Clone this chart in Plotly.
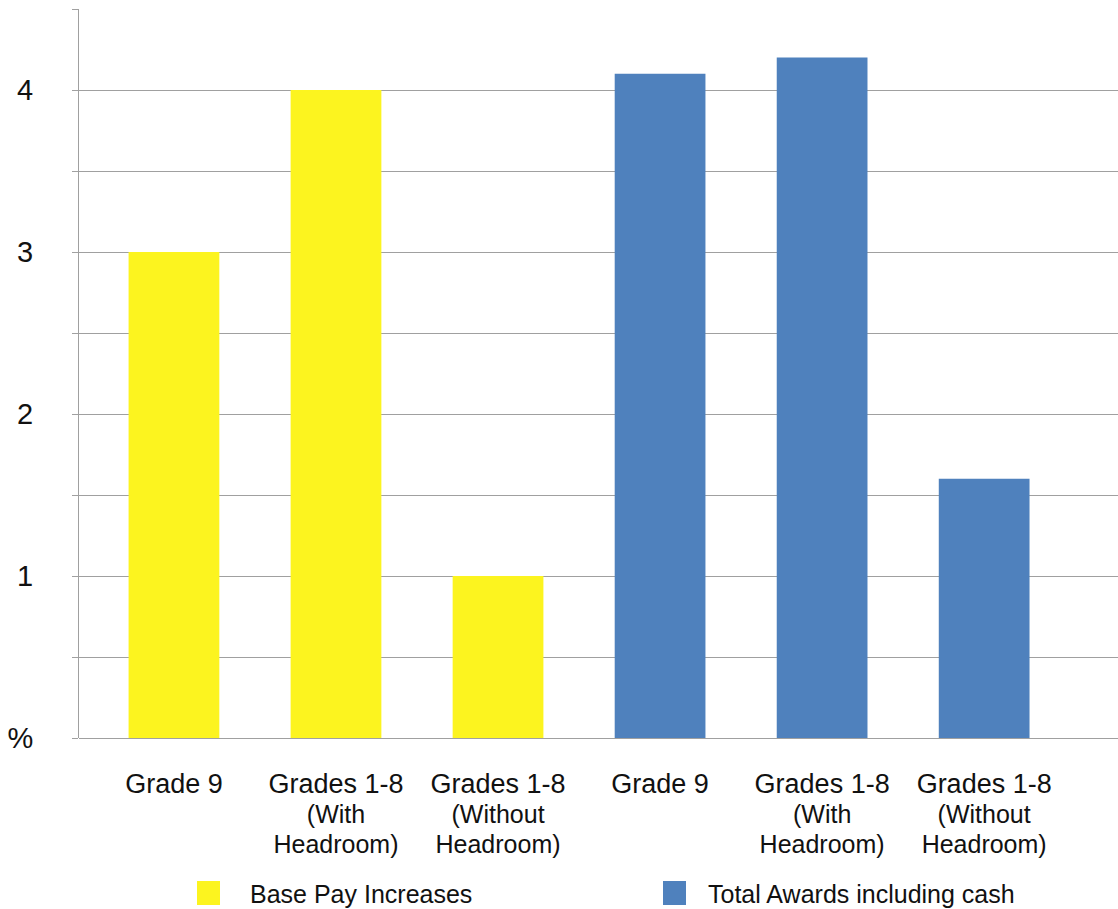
import plotly.graph_objects as go

# Category labels (main line + two smaller sub-lines)
categories = ["Grade 9", "Grades 1-8", "Grades 1-8", "Grade 9", "Grades 1-8", "Grades 1-8"]
sub_line1 = ["", "(With", "(Without", "", "(With", "(Without"]
sub_line2 = ["", "Headroom)", "Headroom)", "", "Headroom)", "Headroom)"]

# Series values (%)
base_pay = [3.0, 4.0, 1.0]
total_awards = [4.1, 4.2, 1.6]

series_names = ["Base Pay Increases", "Total Awards including cash"]
y_tickvals = [0, 0.5, 1, 1.5, 2, 2.5, 3, 3.5, 4, 4.5]
y_ticktext = ["%", "", "1", "", "2", "", "3", "", "4", ""]

YELLOW = "#FCF41F"
BLUE = "#4F81BD"
FONT = "Liberation Sans, Arial, sans-serif"

W, H = 1118, 909
M_L, M_R, M_T, M_B = 79, 0, 9, 171
PW, PH = W - M_L - M_R, H - M_T - M_B


def px_x(px):
    return (px - M_L) / PW


def px_y(py):
    return (H - M_B - py) / PH


positions = list(range(len(categories)))
n_base = len(base_pay)

ticktext = []
for main, s1, s2 in zip(categories, sub_line1, sub_line2):
    txt = f"<span style='font-size:27px'>{main}</span>"
    if s1:
        txt += (f"<br><span style='font-size:25px'>{s1}</span>"
                f"<br><span style='font-size:25px'>{s2}</span>")
    ticktext.append(txt)

fig = go.Figure()
fig.add_trace(go.Bar(x=positions[:n_base], y=base_pay, name=series_names[0],
                     marker=dict(color=YELLOW, line=dict(width=0)), width=0.56,
                     showlegend=False))
fig.add_trace(go.Bar(x=positions[n_base:], y=total_awards, name=series_names[1],
                     marker=dict(color=BLUE, line=dict(width=0)), width=0.56,
                     showlegend=False))

# Custom legend: colour squares plus labels under the category axis
legend_items = [(197, YELLOW, 248), (663, BLUE, 706)]
for (sq_x, color, tx), name in zip(legend_items, series_names):
    fig.add_shape(type="rect", xref="paper", yref="paper",
                  x0=px_x(sq_x), x1=px_x(sq_x + 23), y0=px_y(905), y1=px_y(881),
                  fillcolor=color, line=dict(width=0))
    fig.add_annotation(xref="paper", yref="paper", x=px_x(tx), y=px_y(894),
                       xanchor="left", yanchor="middle", showarrow=False,
                       text=name, font=dict(family=FONT, size=25, color="#111111"))

fig.update_layout(
    width=W, height=H,
    margin=dict(l=M_L, r=M_R, t=M_T, b=M_B),
    paper_bgcolor="white", plot_bgcolor="white",
    barmode="overlay",
    font=dict(family=FONT, color="#111111"),
    xaxis=dict(
        range=[-0.586, 5.826],
        tickmode="array", tickvals=positions, ticktext=ticktext,
        tickfont=dict(family=FONT, size=23, color="#111111"),
        showgrid=False, zeroline=False,
        showline=False, ticks="", ticklabelstandoff=31,
    ),
    yaxis=dict(
        range=[0, 4.5],
        tickmode="array", tickvals=y_tickvals, ticktext=y_ticktext,
        tickfont=dict(family=FONT, size=29, color="#111111"),
        showgrid=True, gridcolor="#A0A0A0", gridwidth=1,
        zeroline=True, zerolinecolor="#A0A0A0", zerolinewidth=1,
        showline=True, linecolor="#A0A0A0", linewidth=1,
        ticks="outside", ticklen=6, tickcolor="#A0A0A0",
        ticklabelstandoff=33,
    ),
)

fig.write_html("out.html")
